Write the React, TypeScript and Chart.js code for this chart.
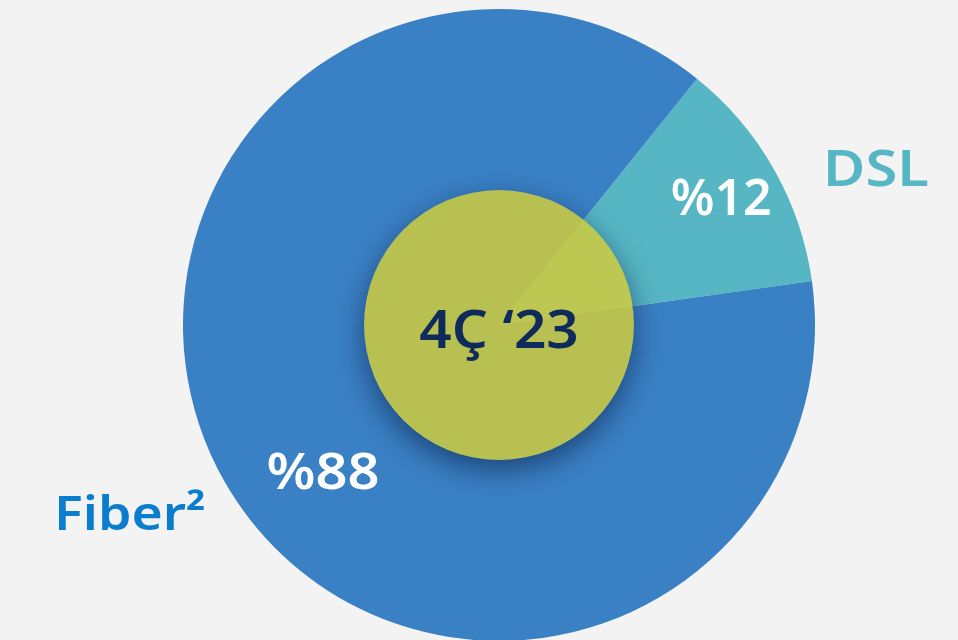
import React, { useEffect, useRef } from "react";
import { Chart, registerables } from "chart.js";

Chart.register(...registerables);

// ---- data ----
const categories = ["DSL", "Fiber²"];
const shares = [12, 88];
const valueLabels = ["%12", "%88"];
const centerLabel = "4Ç ‘23";

// ---- styles ----
const sliceColors = ["#56b6c3", "#3a80c4"];
const nameColors = ["#56b6c3", "#0a7dcf"];
const startRotation = 38.8;
const FONT = '"Noto Sans", "Open Sans", sans-serif';
// label anchors in units of pie radius, relative to pie centre (x, baseline y)
const valueAnchors = [
  [0.703, -0.348],
  [-0.557, 0.519],
];
const nameAnchors = [
  [1.193, -0.44],
  [-1.168, 0.649],
];
const valueStretch = [1.0, 1.12];
const nameStretch = [1.16, 1.14];
const centerAnchor = [0, 0.073];
const centerRadiusFrac = 0.427;

function drawText(ctx: CanvasRenderingContext2D, text: string, x: number, y: number, stretch: number) {
  ctx.save();
  ctx.translate(x, y);
  ctx.scale(stretch, 1);
  ctx.fillText(text, 0, 0);
  ctx.restore();
}

const overlayPlugin = {
  id: "overlay",
  afterDatasetsDraw(chart: any) {
    const meta = chart.getDatasetMeta(0);
    const arc0 = meta.data[0];
    if (!arc0) return;
    const cx = arc0.x;
    const cy = arc0.y;
    const R = arc0.outerRadius;
    const ctx = chart.ctx as CanvasRenderingContext2D;
    const cr = R * centerRadiusFrac;

    // shadow of center disc (outside only)
    ctx.save();
    ctx.beginPath();
    ctx.rect(0, 0, chart.width, chart.height);
    ctx.arc(cx, cy, cr, 0, Math.PI * 2);
    ctx.clip("evenodd");
    ctx.shadowColor = "rgba(10,30,70,0.6)";
    ctx.shadowBlur = 28;
    ctx.shadowOffsetX = -10000;
    ctx.shadowOffsetY = 10;
    ctx.beginPath();
    ctx.arc(cx + 10000, cy, cr, 0, Math.PI * 2);
    ctx.fillStyle = "#000";
    ctx.fill();
    ctx.restore();

    // center disc
    ctx.save();
    ctx.beginPath();
    ctx.arc(cx, cy, cr, 0, Math.PI * 2);
    ctx.fillStyle = "rgba(207,203,62,0.85)";
    ctx.fill();
    ctx.restore();

    ctx.save();
    ctx.textAlign = "center";
    ctx.textBaseline = "alphabetic";
    ctx.font = `600 52px ${FONT}`;
    ctx.fillStyle = "#0e2b5c";
    drawText(ctx, centerLabel, cx + centerAnchor[0] * R, cy + centerAnchor[1] * R, 1.09);

    categories.forEach((name, i) => {
      ctx.font = `600 50px ${FONT}`;
      ctx.fillStyle = "#ffffff";
      drawText(ctx, valueLabels[i], cx + valueAnchors[i][0] * R, cy + valueAnchors[i][1] * R, valueStretch[i]);
      ctx.font = `600 ${i === 0 ? 50 : 47}px ${FONT}`;
      ctx.fillStyle = nameColors[i];
      drawText(ctx, name, cx + nameAnchors[i][0] * R, cy + nameAnchors[i][1] * R, nameStretch[i]);
    });
    ctx.restore();
  },
};

export default function App() {
  const ref = useRef<HTMLCanvasElement | null>(null);
  useEffect(() => {
    document.body.style.margin = "0";
    const chart = new Chart(ref.current as HTMLCanvasElement, {
      type: "pie",
      data: {
        labels: categories,
        datasets: [
          {
            data: shares,
            backgroundColor: sliceColors,
            borderWidth: 0,
            hoverOffset: 0,
          },
        ],
      },
      options: {
        animation: false,
        responsive: false,
        rotation: startRotation,
        layout: { padding: { top: 9, bottom: 19, left: 183, right: 143 } },
        plugins: { legend: { display: false }, tooltip: { enabled: false } },
      },
      plugins: [overlayPlugin],
    });
    return () => chart.destroy();
  }, []);
  return (
    <div
      style={{
        position: "fixed",
        left: 0,
        top: 0,
        width: 958,
        height: 640,
        overflow: "hidden",
        background: "#f3f3f3",
      }}
    >
      <canvas ref={ref} width={958} height={660} style={{ display: "block" }} />
    </div>
  );
}
